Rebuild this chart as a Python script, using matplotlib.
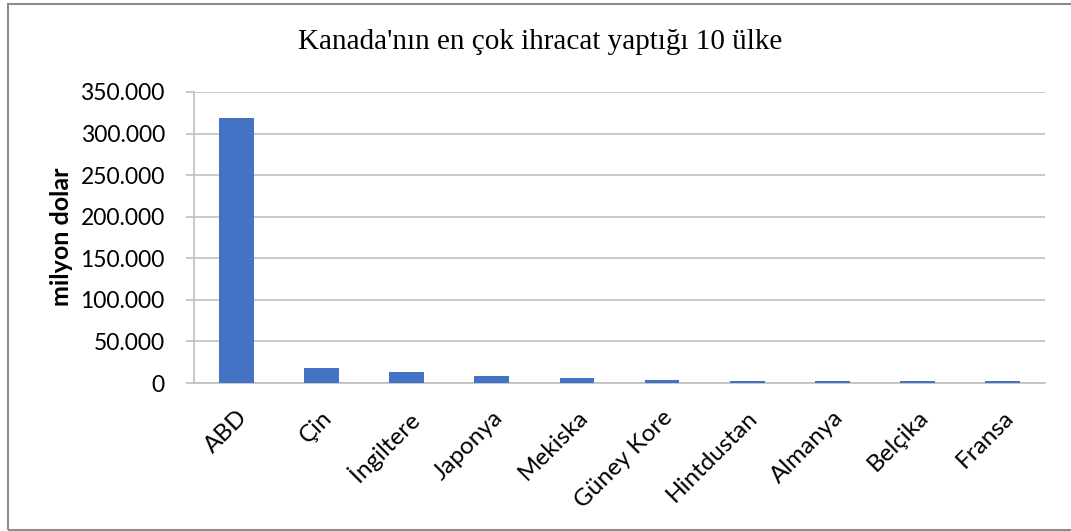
import matplotlib
matplotlib.use("Agg")
import matplotlib.pyplot as plt
from matplotlib.ticker import FuncFormatter
from matplotlib.patches import Rectangle

countries = ["ABD", "Çin", "İngiltere", "Japonya", "Mekiska", "Güney Kore",
             "Hintdustan", "Almanya", "Belçika", "Fransa"]
exports = [319000, 18400, 13600, 8800, 6400, 4000, 2800, 2800, 2400, 2400]
yticks = [0, 50000, 100000, 150000, 200000, 250000, 300000, 350000]
title = "Kanada'nın en çok ihracat yaptığı 10 ülke"
ylabel = "milyon dolar"

W, H = 1071, 531
fig = plt.figure(figsize=(W / 100, H / 100), dpi=100)
fig.patches.append(Rectangle((7.5 / W, 1 - 530 / H), 1.1, (530 - 4) / H, transform=fig.transFigure,
                             fill=False, edgecolor="#8c8c8c", linewidth=1.5))
ax = fig.add_axes([194 / W, 1 - 383 / H, (1045 - 194) / W, (383 - 92) / H])

x = list(range(len(countries)))
ax.bar(x, exports, width=0.41, color="#4472C4", zorder=3)
ax.set_xlim(-0.5, len(countries) - 0.5)
ax.set_ylim(0, 350000)
ax.set_yticks(yticks)
ax.yaxis.set_major_formatter(FuncFormatter(lambda v, p: f"{int(v):,}".replace(",", ".")))
ax.grid(axis="y", color="#bfbfbf", linewidth=1.2, zorder=0)
ax.set_xticks(x)
ax.set_xticklabels(countries, rotation=45, ha="right", rotation_mode="anchor",
                   fontsize=17.5, family="Lato")
for lab in ax.get_yticklabels():
    lab.set_family("Lato")
    lab.set_fontsize(16.5)
ax.tick_params(axis="x", length=0, pad=17)
ax.tick_params(axis="y", length=6, color="#bfbfbf", width=1.2, pad=15)
for s in ["top", "right"]:
    ax.spines[s].set_visible(False)
ax.spines["left"].set_color("#bfbfbf")
ax.spines["bottom"].set_color("#bfbfbf")
ax.spines["left"].set_linewidth(1.2)
ax.spines["bottom"].set_linewidth(1.2)
ax.set_ylabel(ylabel, fontsize=18, fontweight="bold", family="Lato")
ax.yaxis.set_label_coords(73 / W, 1 - 237 / H, transform=fig.transFigure)
fig.text(540 / W, 1 - 42 / H, title, ha="center", va="center", fontsize=21,
         family="Liberation Serif")
fig.savefig("out.png", dpi=100)
